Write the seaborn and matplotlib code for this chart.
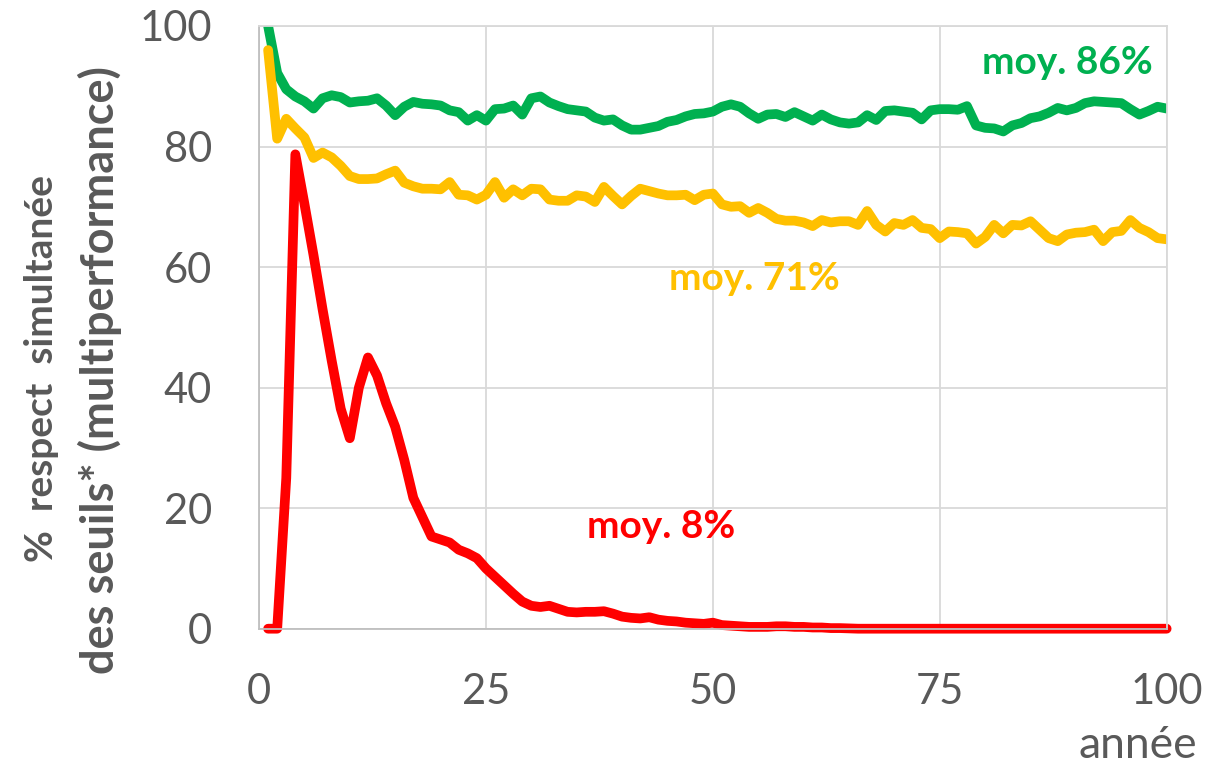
import numpy as np
import pandas as pd
import matplotlib
matplotlib.use("Agg")
import matplotlib.pyplot as plt
import seaborn as sns

# années 1..100
annees = list(range(1, 101))

vert = [
    100, 92.2, 89.5, 88.3, 87.5, 86.3, 88.0, 88.5, 88.2, 87.3,
    87.5, 87.6, 88.0, 86.8, 85.2, 86.6, 87.4, 87.1, 87.0, 86.8,
    86.0, 85.7, 84.3, 85.2, 84.3, 86.2, 86.3, 86.8, 85.3, 88.0,
    88.3, 87.3, 86.7, 86.2, 86.0, 85.8, 84.8, 84.3, 84.5, 83.5,
    82.8, 82.8, 83.1, 83.4, 84.1, 84.4, 85.0, 85.4, 85.5, 85.8,
    86.6, 87.0, 86.6, 85.5, 84.6, 85.3, 85.4, 84.9, 85.7, 85.0,
    84.3, 85.3, 84.5, 84.0, 83.8, 84.0, 85.2, 84.4, 85.9, 86.0,
    85.8, 85.6, 84.5, 86.0, 86.2, 86.2, 86.1, 86.7, 83.5, 83.1,
    83.0, 82.5, 83.5, 83.9, 84.7, 85.0, 85.6, 86.4, 86.0, 86.4,
    87.2, 87.5, 87.4, 87.3, 87.2, 86.2, 85.3, 85.9, 86.6, 86.3,
]

jaune = [
    96.0, 81.3, 84.6, 83.0, 81.5, 78.1, 79.0, 78.2, 76.8, 75.1,
    74.6, 74.6, 74.7, 75.4, 76.0, 74.0, 73.4, 73.0, 73.0, 72.9,
    74.1, 72.0, 71.9, 71.2, 72.0, 74.1, 71.5, 72.9, 71.9, 73.0,
    72.9, 71.2, 71.0, 71.0, 71.9, 71.7, 70.8, 73.3, 71.8, 70.4,
    71.8, 73.0, 72.6, 72.2, 71.9, 71.9, 72.0, 71.1, 72.0, 72.2,
    70.4, 70.0, 70.1, 69.0, 69.8, 69.0, 68.0, 67.7, 67.7, 67.4,
    66.8, 67.8, 67.4, 67.6, 67.6, 67.0, 69.3, 67.0, 65.9, 67.3,
    67.0, 67.8, 66.5, 66.3, 64.8, 65.9, 65.8, 65.6, 63.9, 65.0,
    67.0, 65.6, 67.0, 66.9, 67.6, 66.2, 64.8, 64.3, 65.4, 65.7,
    65.8, 66.2, 64.3, 65.8, 66.0, 67.8, 66.5, 65.8, 64.8, 64.6,
]

rouge = [
    0, 0, 25.0, 78.7, 70.5, 62.0, 53.0, 44.5, 36.5, 31.6,
    40.0, 45.0, 42.0, 37.4, 33.5, 28.0, 21.7, 18.5, 15.3, 14.8,
    14.3, 13.1, 12.5, 11.7, 10.0, 8.6, 7.2, 5.8, 4.5, 3.8,
    3.6, 3.8, 3.3, 2.8, 2.7, 2.8, 2.8, 2.9, 2.5, 2.0,
    1.8, 1.7, 1.9, 1.5, 1.3, 1.2, 1.0, 0.9, 0.8, 1.0,
    0.6, 0.5, 0.4, 0.3, 0.3, 0.3, 0.4, 0.4, 0.3, 0.3,
    0.2, 0.2, 0.1, 0.1, 0.05, 0, 0, 0, 0, 0,
    0, 0, 0, 0, 0, 0, 0, 0, 0, 0,
    0, 0, 0, 0, 0, 0, 0, 0, 0, 0,
    0, 0, 0, 0, 0, 0, 0, 0, 0, 0,
]

yticks = [0, 20, 40, 60, 80, 100]
xticks = [0, 25, 50, 75, 100]

GRIS = "#595959"
VERT = "#00B050"
JAUNE = "#FFC000"
ROUGE = "#FF0000"

sns.set_style("white")
plt.rcParams["font.family"] = ["Lato", "DejaVu Sans"]

fig = plt.figure(figsize=(12.3, 7.64), dpi=100)
ax = fig.add_axes([0.2106, 0.1771, 0.7379, 0.7889])

lw = 7.0
for serie, coul in [(vert, VERT), (jaune, JAUNE), (rouge, ROUGE)]:
    sns.lineplot(x=annees, y=serie, ax=ax, color=coul, linewidth=lw,
                 solid_capstyle="round", solid_joinstyle="round")
ax.lines[-1].set_clip_on(False)

ax.set_xlim(0, 100)
ax.set_ylim(0, 100)
ax.set_xticks(xticks)
ax.set_yticks(yticks)
ax.grid(True, color="#D9D9D9", linewidth=1.3)
ax.set_axisbelow(True)
for s in ax.spines.values():
    s.set_color("#D9D9D9")
    s.set_linewidth(1.3)
ax.spines["left"].set_color("#BFBFBF")
ax.spines["bottom"].set_color("#BFBFBF")

ax.tick_params(axis="y", length=0, pad=34, labelsize=30, labelcolor=GRIS)
ax.tick_params(axis="x", length=0, pad=32, labelsize=30, labelcolor=GRIS)
ax.set_xlabel("")
ax.set_ylabel("")

# annotations des moyennes
fig.text(1153 / 1230, 1 - 62 / 764, "moy. 86%", fontsize=28, fontweight="bold",
         color=VERT, ha="right", va="center")
fig.text(754 / 1230, 1 - 278 / 764, "moy. 71%", fontsize=28, fontweight="bold",
         color=JAUNE, ha="center", va="center")
fig.text(661 / 1230, 1 - 527 / 764, "moy. 8%", fontsize=28, fontweight="bold",
         color=ROUGE, ha="center", va="center")

# titre de l'axe y sur deux lignes
fig.text(42 / 1230, 1 - 368 / 764, "%  respect  simultanée", rotation=90,
         fontsize=28, fontweight="bold", color=GRIS, ha="center", va="center")
fig.text(100 / 1230, 1 - 370 / 764, "des seuils* (multiperformance)", rotation=90,
         fontsize=32.5, fontweight="bold", color=GRIS, ha="center", va="center")

fig.text(1138 / 1230, 1 - 745 / 764, "année", fontsize=32, color=GRIS,
         ha="center", va="center")

fig.savefig("out.png", dpi=100)
